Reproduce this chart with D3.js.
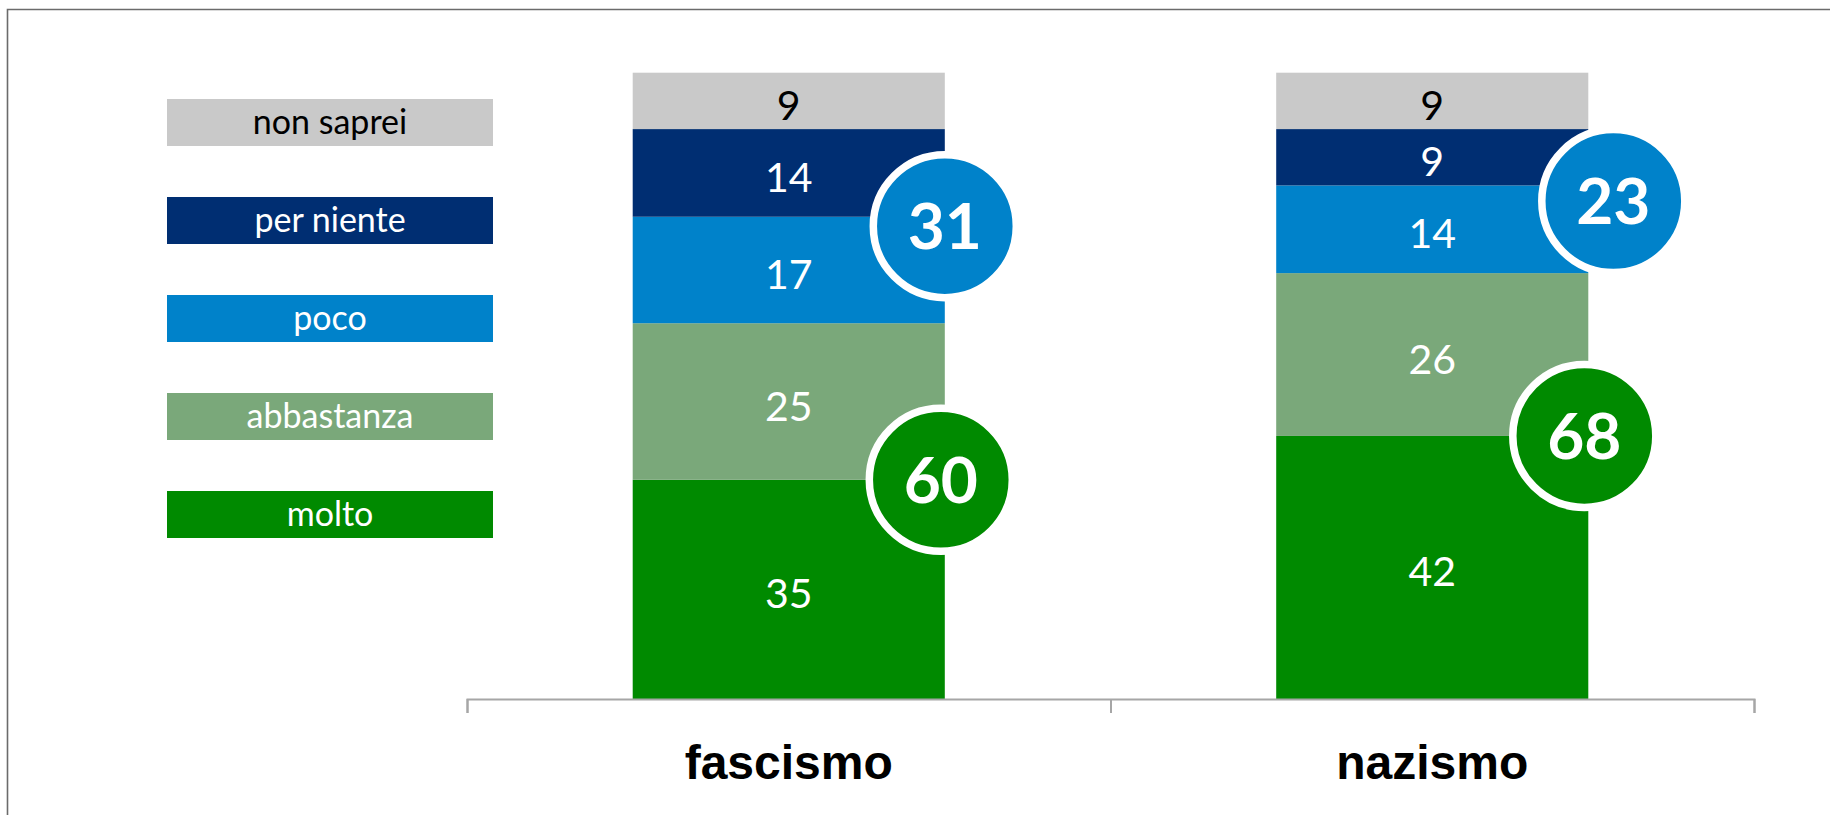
<!DOCTYPE html>
<html>
<head>
<meta charset="utf-8">
<script src="https://cdn.jsdelivr.net/npm/d3@7"></script>
<style>
  html, body { margin: 0; padding: 0; background: #fff; }
  svg { display: block; }
</style>
</head>
<body>
<svg id="chart" width="1830" height="815"></svg>
<script>
// ---- data ----
const categories = ["fascismo", "nazismo"];
const seriesNames = ["molto", "abbastanza", "poco", "per niente", "non saprei"];
const molto = [35, 42];
const abbastanza = [25, 26];
const poco = [17, 14];
const perNiente = [14, 9];
const nonSaprei = [9, 9];
const seriesColors = ["#008A00", "#7AA87A", "#0082CA", "#002E72", "#C9C9C9"];
const labelColors = ["#FFFFFF", "#FFFFFF", "#FFFFFF", "#FFFFFF", "#000000"];

// ---- build table ----
const seriesValues = [molto, abbastanza, poco, perNiente, nonSaprei];
const table = categories.map((c, i) => {
  const row = { cat: c };
  seriesNames.forEach((s, j) => { row[s] = seriesValues[j][i]; });
  return row;
});
const stacked = d3.stack().keys(seriesNames)(table);

const svg = d3.select("#chart");
const W = 1830, H = 815;

// frame
svg.append("path")
  .attr("d", `M7.5,${H} V9.5 H${W}`)
  .attr("fill", "none").attr("stroke", "#6b6b6b").attr("stroke-width", 1.6);

const x = d3.scaleBand().domain(categories).range([467, 1754]).padding(0);
const y = d3.scaleLinear().domain([0, 100]).range([699, 72.7]);
const barW = x.bandwidth() * 0.485;
const barX = c => x(c) + (x.bandwidth() - barW) / 2;

const fontMain = "Lato, 'Open Sans', sans-serif";

// bars
const layers = svg.append("g").selectAll("g").data(stacked).join("g")
  .attr("fill", (d, j) => seriesColors[j]);
layers.selectAll("rect").data(d => d.map(v => ({ v, key: d.key }))).join("rect")
  .attr("x", d => barX(d.v.data.cat))
  .attr("width", barW)
  .attr("y", d => y(d.v[1]))
  .attr("height", d => y(d.v[0]) - y(d.v[1]));

// segment labels
const lab = svg.append("g").attr("font-family", fontMain).attr("font-size", 41).attr("text-anchor", "middle");
stacked.forEach((layer, j) => {
  lab.append("g").selectAll("text").data(layer).join("text")
    .attr("x", d => barX(d.data.cat) + barW / 2)
    .attr("y", d => (y(d[0]) + y(d[1])) / 2 + 19)
    .attr("fill", labelColors[j])
    .text(d => d.data[layer.key]);
});

// axis: baseline with boundary ticks
const sep = d3.scaleLinear().domain([0, categories.length]).range(x.range());
const axisG = svg.append("g").attr("transform", `translate(0,${y(0)})`)
  .call(d3.axisBottom(sep).tickValues(d3.range(categories.length + 1)).tickSize(14).tickSizeOuter(14).tickFormat(""));
axisG.selectAll("path,line").attr("stroke", "#A6A6A6").attr("stroke-width", 2);

// category labels
svg.append("g").selectAll("text").data(categories).join("text")
  .attr("x", c => x(c) + x.bandwidth() / 2)
  .attr("y", 779)
  .attr("text-anchor", "middle")
  .attr("font-family", "'Liberation Sans', Arial, sans-serif")
  .attr("font-weight", "bold")
  .attr("font-size", 48)
  .attr("fill", "#000")
  .text(c => c);

// badges
const negTotals = categories.map((c, i) => poco[i] + perNiente[i]);
const posTotals = categories.map((c, i) => molto[i] + abbastanza[i]);
const negShift = [0, 25];   // layout offsets (px)
const posShift = [-4, -4];
const badges = [];
categories.forEach((c, i) => {
  const right = barX(c) + barW;
  badges.push({ cx: right + negShift[i], cy: y(molto[i] + abbastanza[i] + (poco[i] + perNiente[i]) / 2), val: negTotals[i], col: seriesColors[2] });
  badges.push({ cx: right + posShift[i], cy: y(molto[i]), val: posTotals[i], col: seriesColors[0] });
});
const bg = svg.append("g").selectAll("g").data(badges).join("g");
bg.append("circle")
  .attr("cx", d => d.cx).attr("cy", d => d.cy).attr("r", 71.5)
  .attr("fill", d => d.col).attr("stroke", "#fff").attr("stroke-width", 7.5);
bg.append("text")
  .attr("x", d => d.cx).attr("y", d => d.cy + 23)
  .attr("text-anchor", "middle")
  .attr("font-family", fontMain).attr("font-weight", "bold").attr("font-size", 64)
  .attr("fill", "#fff")
  .text(d => d.val);

// legend
const legendOrder = seriesNames.map((s, j) => j).reverse();
const lg = svg.append("g").selectAll("g").data(legendOrder).join("g")
  .attr("transform", (j, k) => `translate(167,${99 + k * 98})`);
lg.append("rect").attr("width", 326).attr("height", 47).attr("fill", j => seriesColors[j]);
lg.append("text").attr("x", 163).attr("y", 35)
  .attr("text-anchor", "middle")
  .attr("font-family", fontMain).attr("font-size", 34)
  .attr("fill", j => labelColors[j])
  .text(j => seriesNames[j]);
</script>
</body>
</html>
